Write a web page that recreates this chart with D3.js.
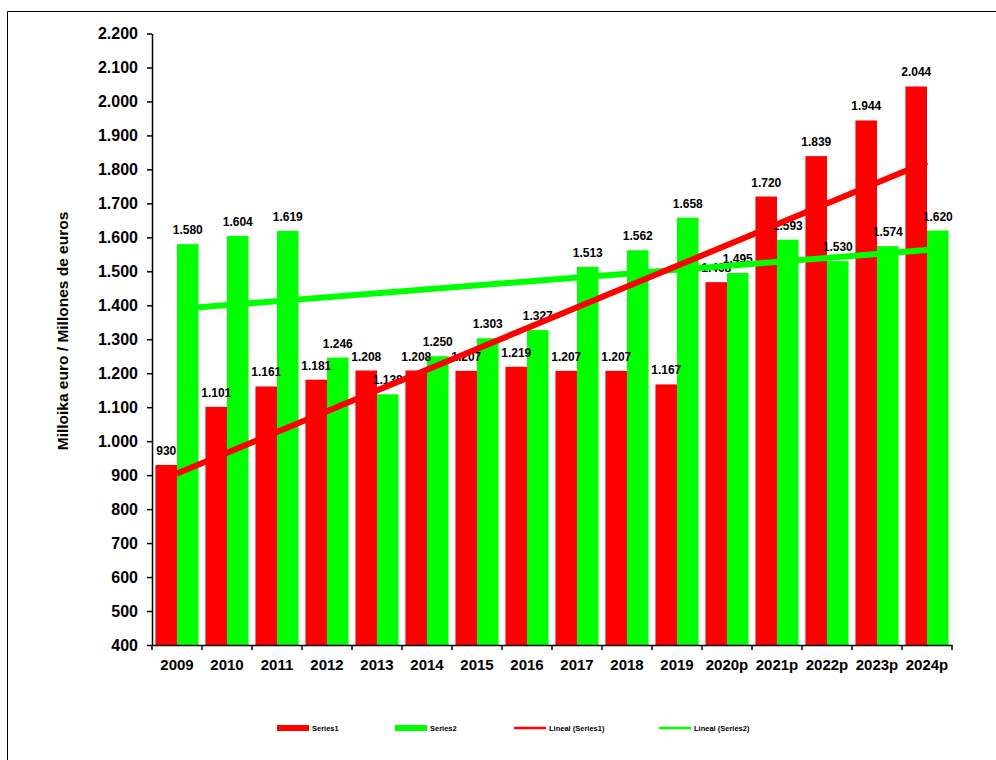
<!DOCTYPE html>
<html>
<head>
<meta charset="utf-8">
<script src="https://cdn.jsdelivr.net/npm/d3@7"></script>
<style>
  body { margin: 0; background: #fff; }
  svg { display: block; font-family: Arial, "Liberation Sans", sans-serif; }
</style>
</head>
<body>
<svg width="996" height="760"></svg>
<script>
// data
var years = ['2009', '2010', '2011', '2012', '2013', '2014', '2015', '2016',
             '2017', '2018', '2019', '2020p', '2021p', '2022p', '2023p', '2024p'];
var series1 = [930, 1101, 1161, 1181, 1208, 1208, 1207, 1219, 1207, 1207, 1167, 1468, 1720, 1839, 1944, 2044];
var series2 = [1580, 1604, 1619, 1246, 1138, 1250, 1303, 1327, 1513, 1562, 1658, 1495, 1593, 1530, 1574, 1620];
var yTicks = d3.range(400, 2201, 100);

var RED = '#ff0000', GREEN = '#00ff00';

var svg = d3.select('svg');

// plot area (note: "top" is reserved on window, so use other names)
var plotL = 152, plotR = 952, plotT = 33.5, plotB = 645;

var loc = d3.formatLocale({decimal: ',', thousands: '.', grouping: [3], currency: ['', '€']});
var fmt = loc.format(',d');

var x0 = d3.scaleBand().domain(years).range([plotL, plotR]).padding(0);
var x1 = d3.scaleBand().domain(['s1', 's2']).range([0, x0.bandwidth()]).paddingInner(0).paddingOuter(0.16);
var y = d3.scaleLinear().domain([400, 2200]).range([plotB, plotT]);

// frame
svg.append('path')
  .attr('d', 'M7.5,760 V11.5 H996')
  .attr('fill', 'none').attr('stroke', '#000').attr('stroke-width', 1);

// bars
var groups = svg.append('g').selectAll('g')
  .data(years)
  .join('g')
  .attr('transform', function(d) { return 'translate(' + x0(d) + ',0)'; });

groups.append('rect')
  .attr('x', x1('s1')).attr('width', x1.bandwidth())
  .attr('y', function(d, i) { return y(series1[i]); })
  .attr('height', function(d, i) { return plotB - y(series1[i]); })
  .attr('fill', RED);

groups.append('rect')
  .attr('x', x1('s2')).attr('width', x1.bandwidth())
  .attr('y', function(d, i) { return y(series2[i]); })
  .attr('height', function(d, i) { return plotB - y(series2[i]); })
  .attr('fill', GREEN);

// data labels
groups.append('text')
  .attr('x', x1('s1') + x1.bandwidth() / 2)
  .attr('y', function(d, i) { return y(series1[i]) - 10; })
  .attr('text-anchor', 'middle')
  .style('font-size', '12px').style('font-weight', 'bold')
  .text(function(d, i) { return fmt(series1[i]); });

groups.append('text')
  .attr('x', x1('s2') + x1.bandwidth() / 2)
  .attr('y', function(d, i) { return y(series2[i]) - 10; })
  .attr('text-anchor', 'middle')
  .style('font-size', '12px').style('font-weight', 'bold')
  .text(function(d, i) { return fmt(series2[i]); });

// linear trend lines (least squares over category index)
function trend(vals) {
  var n = vals.length, mx = (n - 1) / 2, my = d3.mean(vals);
  var sxy = 0, sxx = 0;
  vals.forEach(function(v, i) { sxy += (i - mx) * (v - my); sxx += (i - mx) * (i - mx); });
  var b = sxy / sxx, a = my - b * mx;
  return [[0, a], [n - 1, a + b * (n - 1)]];
}
var line = d3.line()
  .x(function(d) { return x0(years[d[0]]) + x0.bandwidth() / 2; })
  .y(function(d) { return y(d[1]); });

svg.append('path').datum(trend(series2))
  .attr('d', line).attr('fill', 'none').attr('stroke', GREEN).attr('stroke-width', 6);
svg.append('path').datum(trend(series1))
  .attr('d', line).attr('fill', 'none').attr('stroke', RED).attr('stroke-width', 6);

// y axis
var yAxis = svg.append('g')
  .attr('transform', 'translate(' + plotL + ',0)')
  .call(d3.axisLeft(y).tickValues(yTicks).tickSize(5).tickSizeOuter(0).tickPadding(9).tickFormat(fmt));
yAxis.select('.domain').attr('stroke-width', 1.5);
yAxis.selectAll('.tick line').attr('stroke-width', 1.5);
yAxis.selectAll('text').style('font-size', '16px').style('font-weight', 'bold').attr('fill', '#000');

// x axis
var xAxis = svg.append('g')
  .attr('transform', 'translate(0,' + plotB + ')')
  .call(d3.axisBottom(x0).tickSize(0).tickPadding(14));
xAxis.select('.domain').attr('stroke-width', 1.5);
xAxis.selectAll('text').style('font-size', '15px').style('font-weight', 'bold').attr('fill', '#000');
xAxis.selectAll('.bound')
  .data(years.concat(['end']))
  .join('line')
  .attr('class', 'bound')
  .attr('x1', function(d) { return d === 'end' ? plotR : x0(d); })
  .attr('x2', function(d) { return d === 'end' ? plotR : x0(d); })
  .attr('y1', 0).attr('y2', 5)
  .attr('stroke', '#000').attr('stroke-width', 1.5);

// y axis title
svg.append('text')
  .attr('transform', 'translate(68,331) rotate(-90)')
  .attr('text-anchor', 'middle')
  .style('font-size', '15.5px').style('font-weight', 'bold')
  .text('Milloika euro / Millones de euros');

// legend
var legendItems = [
  {label: 'Series1', color: RED, kind: 'rect', x: 277},
  {label: 'Series2', color: GREEN, kind: 'rect', x: 395},
  {label: 'Lineal (Series1)', color: RED, kind: 'line', x: 514},
  {label: 'Lineal (Series2)', color: GREEN, kind: 'line', x: 659}
];
var lg = svg.append('g').selectAll('g').data(legendItems).join('g')
  .attr('transform', function(d) { return 'translate(' + d.x + ',728)'; });
lg.filter(function(d) { return d.kind === 'rect'; })
  .append('rect').attr('x', 0).attr('y', -3).attr('width', 32).attr('height', 6)
  .attr('fill', function(d) { return d.color; });
lg.filter(function(d) { return d.kind === 'line'; })
  .append('line').attr('x1', 0).attr('x2', 32).attr('y1', 0).attr('y2', 0)
  .attr('stroke', function(d) { return d.color; }).attr('stroke-width', 2.5);
lg.append('text')
  .attr('x', 35).attr('y', 3)
  .style('font-size', '7.5px').style('font-weight', 'bold')
  .text(function(d) { return d.label; });
</script>
</body>
</html>
